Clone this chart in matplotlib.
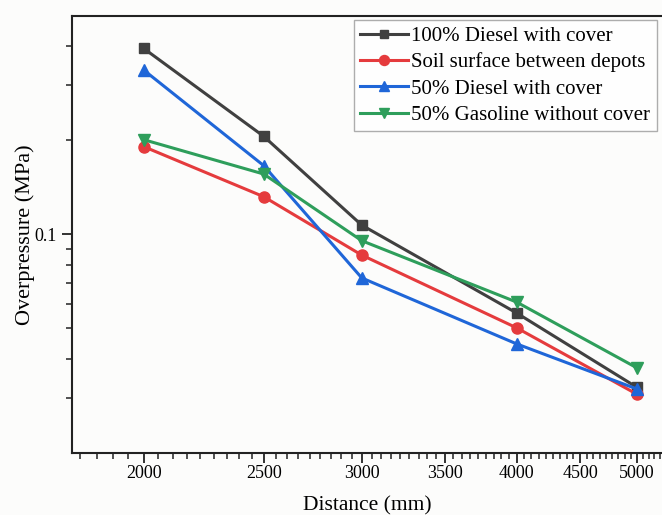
import matplotlib
matplotlib.use("Agg")
import matplotlib.pyplot as plt
from matplotlib.ticker import FixedLocator, FixedFormatter, NullFormatter
import numpy as np

plt.rcParams['font.family'] = ['Liberation Serif', 'DejaVu Serif']

distance = [2000, 2500, 3000, 4000, 5000]
diesel100 = [0.394, 0.206, 0.107, 0.056, 0.0324]
soil = [0.191, 0.132, 0.0858, 0.0502, 0.0308]
diesel50 = [0.336, 0.166, 0.0725, 0.0446, 0.032]
gasoline50 = [0.201, 0.156, 0.0954, 0.0607, 0.0374]

labels = ["100% Diesel with cover", "Soil surface between depots",
          "50% Diesel with cover", "50% Gasoline without cover"]
xticks = [2000, 2500, 3000, 3500, 4000, 4500, 5000]
xticklabels = ["2000", "2500", "3000", "3500", "4000", "4500", "5000"]

W, H = 662, 515
fig = plt.figure(figsize=(W/100, H/100), dpi=100)
bg = '#fcfcfb'
fig.patch.set_facecolor(bg)
L, R, T, B = 71.7, 663.0, 16.0, 452.7
ax = fig.add_axes([L/W, 1-B/H, (R-L)/W, (B-T)/H])
ax.set_facecolor(bg)

styles = [
    (diesel100, '#404040', 's', 7),
    (soil, '#e53b3d', 'o', 8),
    (diesel50, '#1f66d8', '^', 8.5),
    (gasoline50, '#2e9e5b', 'v', 8.5),
]
for (vals, c, m, ms), lab in zip(styles, labels):
    ax.plot(distance, vals, color=c, marker=m, markersize=ms, linewidth=2.2,
            label=lab, clip_on=False)

ax.set_xscale('log')
ax.set_yscale('log')
ax.set_xlim(1750, 5250)
ax.set_ylim(0.02, 0.5)

ax.xaxis.set_major_locator(FixedLocator(xticks))
ax.xaxis.set_major_formatter(FixedFormatter(xticklabels))
step = 500/9
xminor = []
v = 2000 - step
while v > 1750:
    xminor.append(v); v -= step
for k in range(len(xticks)):
    for j in range(1, 9):
        val = xticks[k] + j*step
        if val < 5250:
            xminor.append(val)
ax.xaxis.set_minor_locator(FixedLocator(xminor))
ax.xaxis.set_minor_formatter(NullFormatter())

ax.yaxis.set_major_locator(FixedLocator([0.1]))
ax.yaxis.set_major_formatter(FixedFormatter(["0.1"]))
ax.yaxis.set_minor_locator(FixedLocator([0.03, 0.04, 0.05, 0.06, 0.07, 0.08, 0.09, 0.2, 0.3, 0.4]))
ax.yaxis.set_minor_formatter(NullFormatter())

ax.tick_params(which='major', direction='out', length=7, width=1.3, labelsize=13, color='#222222')
ax.tick_params(which='minor', direction='out', length=4, width=1.1, color='#222222')
ax.tick_params(axis='x', which='major', pad=2)

for s in ['left', 'bottom', 'top']:
    ax.spines[s].set_linewidth(1.5)
    ax.spines[s].set_color('#222222')
ax.spines['right'].set_visible(False)

ax.set_xlabel("Distance (mm)", fontsize=15.5, labelpad=10)
ax.set_ylabel("Overpressure (MPa)", fontsize=16, labelpad=0)

leg = ax.legend(loc='upper left', bbox_to_anchor=(354/W, 1-20/H), bbox_transform=fig.transFigure,
                fontsize=15, frameon=True, fancybox=False, borderpad=0.3, labelspacing=0.32,
                handlelength=2.3, handletextpad=0.15, borderaxespad=0, markerscale=0.9)
leg.get_frame().set_edgecolor('#999999')
leg.get_frame().set_linewidth(1.0)
leg.get_frame().set_facecolor('white')

fig.savefig('out.png', dpi=100, facecolor=bg)
